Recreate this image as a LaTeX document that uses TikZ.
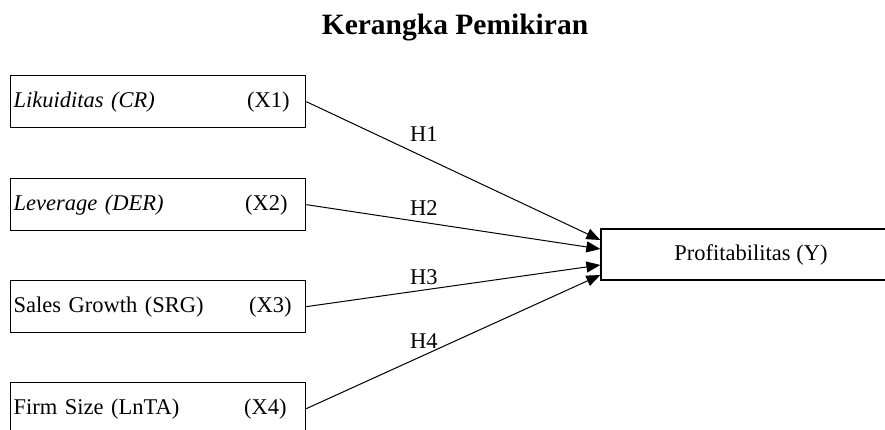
\documentclass[tikz,border=0pt]{standalone}
\usepackage{fontspec}
\setmainfont{Liberation Serif}
\usetikzlibrary{arrows.meta}

\tikzset{
  varbox/.style={draw, line width=1.3pt, anchor=north west, text width=289pt,
    inner xsep=3pt, minimum height=52pt, align=left, font=\fontsize{22.5}{26}\selectfont},
  hyparrow/.style={-{Triangle[length=14pt,width=11pt]}, line width=1pt},
  hyplabel/.style={font=\fontsize{22.5}{26}\selectfont}
}

\begin{document}
\begin{tikzpicture}[x=1pt, y=-1pt]
        \useasboundingbox (0,0) rectangle (885,430);

        % Title
        \node[font=\bfseries\fontsize{29.5}{32}\selectfont] (title) at (455,28) {Kerangka Pemikiran};

        % Independent variables
        \node[varbox] (b1) at (10,75) {\textit{Likuiditas (CR)}\hfill(X1)\rule{13pt}{0pt}};
        \node[varbox] (b2) at (10,178) {\textit{Leverage (DER)}\hfill(X2)\rule{15pt}{0pt}};
        \node[varbox] (b3) at (10,280) {Sales Growth (SRG)\hfill(X3)\rule{11pt}{0pt}};
        \node[varbox] (b4) at (10,382) {Firm Size (LnTA)\hfill(X4)\rule{16pt}{0pt}};

        % Dependent variable
        \node[draw, line width=1.3pt, minimum width=300pt, minimum height=51pt,
          font=\fontsize{22.5}{26}\selectfont] (y) at (751,254.5) {Profitabilitas (Y)};

        % Arrow ends
        \coordinate (t1) at ([yshift=14.5pt]y.west);
        \coordinate (t2) at ([yshift=5.5pt]y.west);
        \coordinate (t3) at ([yshift=-10.5pt]y.west);
        \coordinate (t4) at ([yshift=-20.5pt]y.west);

        % Hypotheses
        \draw[hyparrow] (b1.east) -- (t1) node[hyplabel, pos=0.4, above=12pt] {H1};
        \draw[hyparrow] (b2.east) -- (t2) node[hyplabel, pos=0.4, above=3pt] {H2};
        \draw[hyparrow] (b3.east) -- (t3) node[hyplabel, pos=0.4, above=1pt] {H3};
        \draw[hyparrow] (b4.east) -- (t4) node[hyplabel, pos=0.4, above=3pt] {H4};
    \end{tikzpicture}
\end{document}
